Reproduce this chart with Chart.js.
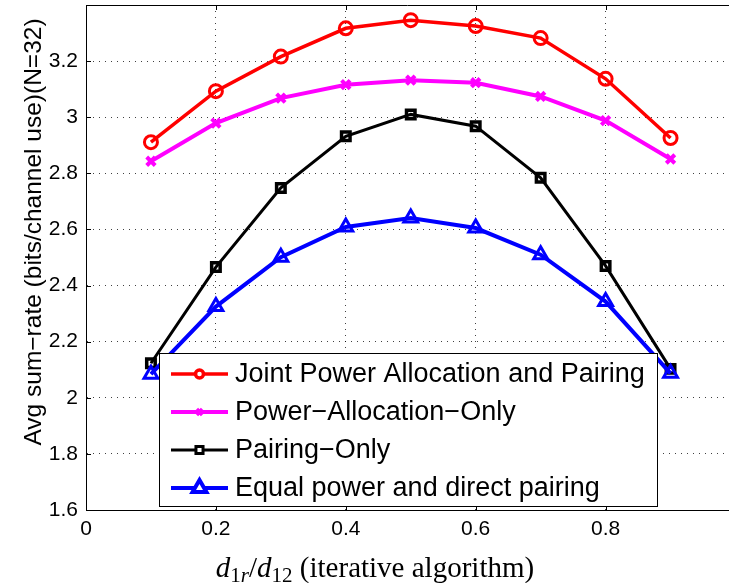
<!DOCTYPE html>
<html>
<head>
<meta charset="utf-8">
<script src="https://cdn.jsdelivr.net/npm/chart.js@4.4.0/dist/chart.umd.min.js"></script>
<style>
  html, body { margin: 0; padding: 0; background: #fff; }
  #wrap { width: 729px; height: 583px; }
</style>
</head>
<body>
<div id="wrap"><canvas id="myChart" width="729" height="583"></canvas></div>
<script>
'use strict';

const xValues = [0.1, 0.2, 0.3, 0.4, 0.5, 0.6, 0.7, 0.8, 0.9];
const jointRates = [2.911, 3.093, 3.216, 3.317, 3.346, 3.325, 3.282, 3.137, 2.926];
const powerOnlyRates = [2.843, 2.979, 3.068, 3.116, 3.132, 3.123, 3.074, 2.988, 2.851];
const pairingOnlyRates = [2.123, 2.466, 2.748, 2.932, 3.010, 2.968, 2.784, 2.470, 2.103];
const equalPowerRates = [2.084, 2.325, 2.501, 2.609, 2.641, 2.605, 2.510, 2.343, 2.087];

const seriesLabels = ['Joint Power Allocation and Pairing', 'Power\u2212Allocation\u2212Only', 'Pairing\u2212Only', 'Equal power and direct pairing'];
const xTicks = [0, 0.2, 0.4, 0.6, 0.8];
const yTicks = [1.6, 1.8, 2, 2.2, 2.4, 2.6, 2.8, 3, 3.2];
const yTitle = 'Avg sum\u2212rate (bits/channel use)(N=32)';

const sans = '"Liberation Sans", Arial, sans-serif';
const serif = '"Liberation Serif", "Times New Roman", serif';

function toPoints(values) {
  return xValues.map((x, i) => ({ x: x, y: values[i] }));
}

// legend look (marker smaller than on the curves, like matlab)
const legendStyles = [
  { color: '#ff0000', style: 'circle', radius: 4, width: 2, line: 3.5 },
  { color: '#ff00ff', style: 'crossRot', radius: 4, width: 3.5, line: 4 },
  { color: '#000000', style: 'rect', radius: 5, width: 3, line: 3 },
  { color: '#0000ff', style: 'triangle', radius: 8, width: 3, line: 4 },
];

// keep the plot box where the reference has it
function zeroPadding(scale) {
  scale.paddingTop = 0;
  scale.paddingBottom = 0;
  scale.paddingLeft = 0;
  scale.paddingRight = 0;
}

const extrasPlugin = {
  id: 'extras',
  afterDraw(chart) {
    const ctx = chart.ctx;
    const area = chart.chartArea;
    const xs = chart.scales.x;
    const ys = chart.scales.y;
    ctx.save();

    // top border
    ctx.strokeStyle = '#000';
    ctx.lineWidth = 1;
    ctx.beginPath();
    ctx.moveTo(area.left, area.top + 0.5);
    ctx.lineTo(area.right, area.top + 0.5);
    ctx.stroke();

    // inward tick marks
    ctx.beginPath();
    for (const v of xTicks) {
      const px = Math.round(xs.getPixelForValue(v)) + 0.5;
      ctx.moveTo(px, area.bottom);
      ctx.lineTo(px, area.bottom - 5);
      ctx.moveTo(px, area.top);
      ctx.lineTo(px, area.top + 5);
    }
    for (const v of yTicks) {
      const py = Math.round(ys.getPixelForValue(v)) + 0.5;
      ctx.moveTo(area.left, py);
      ctx.lineTo(area.left + 5, py);
    }
    ctx.stroke();

    // legend box
    const box = { left: 159, top: 353, right: 657, bottom: 506 };
    ctx.fillStyle = '#fff';
    ctx.fillRect(box.left, box.top, box.right - box.left, box.bottom - box.top);
    ctx.strokeStyle = '#000';
    ctx.lineWidth = 1;
    ctx.strokeRect(box.left + 0.5, box.top + 0.5, box.right - box.left, box.bottom - box.top);

    ctx.font = '27px ' + sans;
    ctx.textBaseline = 'middle';
    ctx.textAlign = 'left';
    for (let i = 0; i < seriesLabels.length; i++) {
      const st = legendStyles[i];
      const cy = 374 + i * 38;
      ctx.strokeStyle = st.color;
      ctx.lineWidth = st.line;
      ctx.beginPath();
      ctx.moveTo(171, cy);
      ctx.lineTo(228, cy);
      ctx.stroke();
      ctx.fillStyle = '#fff';
      Chart.helpers.drawPoint(ctx, {
        pointStyle: st.style,
        radius: st.radius,
        borderWidth: st.width,
        rotation: 0,
      }, 199.5, cy);
      ctx.fillStyle = '#000';
      ctx.fillText(seriesLabels[i], 235, cy + 1);
    }

    // y title
    ctx.save();
    ctx.translate(41, 232);
    ctx.rotate(-Math.PI / 2);
    ctx.font = '24.5px ' + sans;
    ctx.fillStyle = '#000';
    ctx.textAlign = 'center';
    ctx.textBaseline = 'alphabetic';
    ctx.fillText(yTitle, 0, 0);
    ctx.restore();

    // x title with subscripts
    const parts = [
      { t: 'd', it: true, sub: false },
      { t: '1', it: false, sub: true },
      { t: 'r', it: true, sub: true },
      { t: '/', it: false, sub: false },
      { t: 'd', it: true, sub: false },
      { t: '12', it: false, sub: true },
      { t: ' (iterative algorithm)', it: false, sub: false },
    ];
    const fontFor = p => (p.it ? 'italic ' : '') + (p.sub ? '21px ' : '29px ') + serif;
    let total = 0;
    for (const p of parts) {
      ctx.font = fontFor(p);
      total += ctx.measureText(p.t).width;
    }
    let x = 375 - total / 2;
    ctx.textAlign = 'left';
    ctx.textBaseline = 'alphabetic';
    ctx.fillStyle = '#000';
    for (const p of parts) {
      ctx.font = fontFor(p);
      ctx.fillText(p.t, x, p.sub ? 582 : 577);
      x += ctx.measureText(p.t).width;
    }
    ctx.restore();
  },
};

const data = {
  datasets: [
    {
      label: seriesLabels[0],
      data: toPoints(jointRates),
      borderColor: '#ff0000',
      borderWidth: 3.5,
      pointStyle: 'circle',
      pointRadius: 6.5,
      pointBorderWidth: 3,
      order: 3,
    },
    {
      label: seriesLabels[1],
      data: toPoints(powerOnlyRates),
      borderColor: '#ff00ff',
      borderWidth: 4,
      pointStyle: 'crossRot',
      pointRadius: 6,
      pointBorderWidth: 4,
      order: 2,
    },
    {
      label: seriesLabels[2],
      data: toPoints(pairingOnlyRates),
      borderColor: '#000000',
      borderWidth: 3,
      pointStyle: 'rect',
      pointRadius: 6,
      pointBorderWidth: 3.5,
      order: 1,
    },
    {
      label: seriesLabels[3],
      data: toPoints(equalPowerRates),
      borderColor: '#0000ff',
      borderWidth: 4,
      pointStyle: 'triangle',
      pointRadius: 8,
      pointBorderWidth: 3,
      order: 0,
    },
  ],
};

data.datasets.forEach(ds => {
  ds.backgroundColor = 'rgba(0,0,0,0)';
  ds.pointBackgroundColor = 'rgba(0,0,0,0)';
  ds.pointBorderColor = ds.borderColor;
  ds.tension = 0;
  ds.clip = false;
});

const config = {
  type: 'line',
  data: data,
  options: {
    responsive: false,
    animation: false,
    events: [],
    layout: { autoPadding: false, padding: { top: 5, right: 0, left: 0, bottom: 0 } },
    plugins: {
      legend: { display: false },
      tooltip: { enabled: false },
    },
    scales: {
      x: {
        type: 'linear',
        min: 0,
        max: 0.99,
        afterBuildTicks: scale => { scale.ticks = xTicks.map(v => ({ value: v })); },
        afterFit: scale => { scale.height = 73; zeroPadding(scale); },
        ticks: { color: '#000', font: { family: sans, size: 21 }, padding: 7, maxRotation: 0, callback: v => String(v) },
        grid: { color: 'rgba(0,0,0,0.75)', lineWidth: 1, drawTicks: false },
        border: { display: true, color: '#000', width: 1, dash: [1, 5] },
      },
      y: {
        type: 'linear',
        min: 1.6,
        max: 3.4,
        afterBuildTicks: scale => { scale.ticks = yTicks.map(v => ({ value: v })); },
        afterFit: scale => { scale.width = 86; zeroPadding(scale); },
        ticks: { color: '#000', font: { family: sans, size: 21 }, padding: 8, callback: v => String(v) },
        grid: { color: 'rgba(0,0,0,0.75)', lineWidth: 1, drawTicks: false },
        border: { display: true, color: '#000', width: 1, dash: [1, 5] },
      },
    },
  },
  plugins: [extrasPlugin],
};

const canvasChart = document.getElementById('myChart');
new Chart(canvasChart, config);
</script>
</body>
</html>
